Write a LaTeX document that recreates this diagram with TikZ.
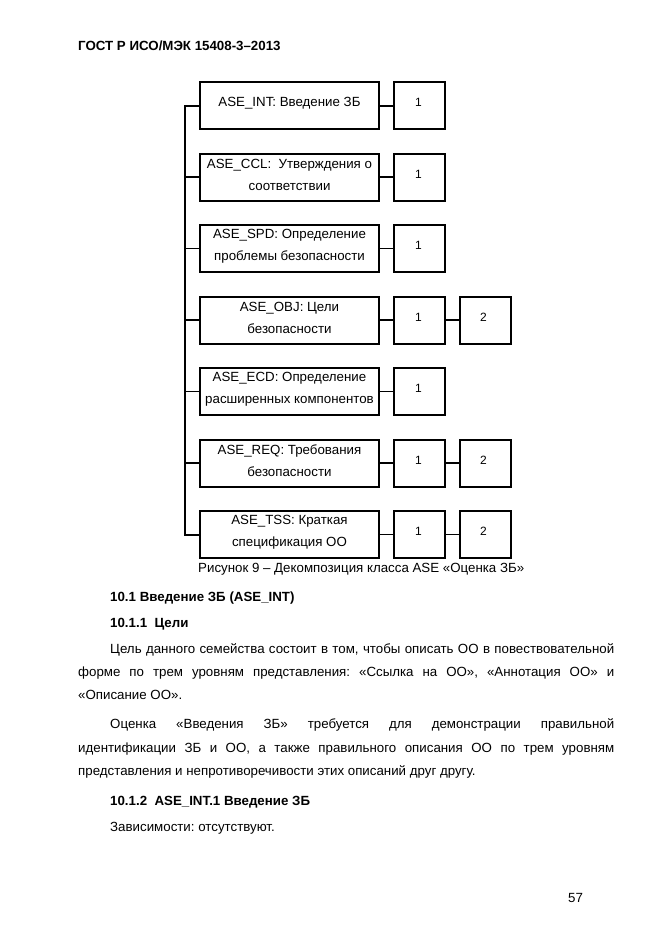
\documentclass[tikz,border=0pt]{standalone}
\usepackage{fontspec}
\setmainfont{Liberation Sans}
\usetikzlibrary{calc}
\frenchspacing
\begin{document}
\frenchspacing
\begin{tikzpicture}[x=1pt,y=-1pt,
  bx/.style={draw, line width=2pt, minimum width=179pt, minimum height=47pt, inner sep=0pt, anchor=north west},
  bt/.style={inner sep=0pt, align=center, font=\fontsize{13.3}{22}\selectfont},
  sb/.style={draw, line width=2pt, minimum width=51pt, minimum height=47pt, inner sep=0pt, anchor=north west},
  dig/.style={inner sep=0pt, font=\fontsize{12}{13}\selectfont},
  thk/.style={line width=2pt},
  thn/.style={line width=1pt},
  txt/.style={anchor=base west, inner sep=0pt, font=\fontsize{13.3}{16}\selectfont},
  hd/.style={anchor=base west, inner sep=0pt, font=\fontsize{13.3}{16}\selectfont\bfseries}]
\useasboundingbox[fill=white] (0,0) rectangle (661,935);

% header
\node[anchor=base west, inner sep=0pt, font=\fontsize{13.3}{15}\selectfont\bfseries] (hdr) at (78,50.5) {ГОСТ Р ИСО/МЭК 15408-3–2013};

% spine coordinate
\coordinate (spine) at (185,0);

% main boxes
\foreach \i/\t/\lab in {1/81/{ASE\_INT: Введение ЗБ},
  2/152.5/{ASE\_CCL:\ \ Утверждения о\\соответствии},
  3/224/{ASE\_SPD: Определение\\проблемы безопасности},
  4/295.5/{ASE\_OBJ: Цели\\безопасности},
  5/367/{ASE\_ECD: Определение\\расширенных компонентов},
  6/438.5/{ASE\_REQ: Требования\\безопасности},
  7/510/{ASE\_TSS: Краткая\\спецификация ОО}}{
  \node[bx] (b\i) at (199,\t) {};
  \node[bt] (t\i) at ($(b\i.center)+(0,-2)$) {\lab};
}

% small boxes
\foreach \i/\t in {1/81,2/152.5,3/224,4/295.5,5/367,6/438.5,7/510}{
  \node[sb] (c\i) at (393,\t) {};
  \node[dig] (d\i) at ($(c\i.center)+(-1,-3)$) {1};
}
\foreach \i/\t in {4/295.5,6/438.5,7/510}{
  \node[sb] (e\i) at (459,\t) {};
  \node[dig] (f\i) at ($(e\i.center)+(-2,-3)$) {2};
}

% spine and branches
\draw[thk] (b1.west) -| (b7.west -| spine) -- (b7.west);
\draw[thk] (b2.west) -- (b2.west -| spine);
\draw[thn] (b3.west) -- (b3.west -| spine);
\draw[thk] (b4.west) -- (b4.west -| spine);
\draw[thn] (b5.west) -- (b5.west -| spine);
\draw[thk] (b6.west) -- (b6.west -| spine);

% box-to-digit connectors
\draw[thk] (b1.east) -- (c1.west);
\draw[thk] (b2.east) -- (c2.west);
\draw[thn] (b3.east) -- (c3.west);
\draw[thk] (b4.east) -- (c4.west);
\draw[thk] (c4.east) -- (e4.west);
\draw[thn] (b5.east) -- (c5.west);
\draw[thk] (b6.east) -- (c6.west);
\draw[thk] (c6.east) -- (e6.west);
\draw[thn] (b7.east) -- (c7.west);
\draw[thn] (c7.east) -- (e7.west);

% caption
\node[anchor=base west, inner sep=0pt, font=\fontsize{13.3}{16}\selectfont] (cap) at (198,572) {Рисунок 9 – Декомпозиция класса ASE «Оценка ЗБ»};

% text body
\node[hd] (h1) at (110,601) {10.1\ Введение ЗБ (ASE\_INT)};
\node[hd] (h2) at (110,627) {10.1.1\ \ Цели};
\node[txt] (p1) at (110,653) {\makebox[504pt][s]{Цель данного семейства состоит в том, чтобы описать ОО в повествовательной}};
\node[txt] (p2) at (78,676) {\makebox[536pt][s]{форме по трем уровням представления: «Ссылка на ОО», «Аннотация ОО» и}};
\node[txt] (p3) at (78,699) {«Описание ОО».};
\node[txt] (q1) at (110,728) {\makebox[504pt][s]{Оценка «Введения ЗБ» требуется для демонстрации правильной}};
\node[txt] (q2) at (78,752) {\makebox[536pt][s]{идентификации ЗБ и ОО, а также правильного описания ОО по трем уровням}};
\node[txt] (q3) at (78,775) {представления и непротиворечивости этих описаний друг другу.};
\node[hd] (h3) at (110,805) {10.1.2\ \ ASE\_INT.1 Введение ЗБ};
\node[txt] (z1) at (110,831) {Зависимости: отсутствуют.};

% page number
\node[anchor=base west, inner sep=0pt, font=\fontsize{13.3}{16}\selectfont] (pg) at (568,902) {57};
\end{tikzpicture}
\end{document}
